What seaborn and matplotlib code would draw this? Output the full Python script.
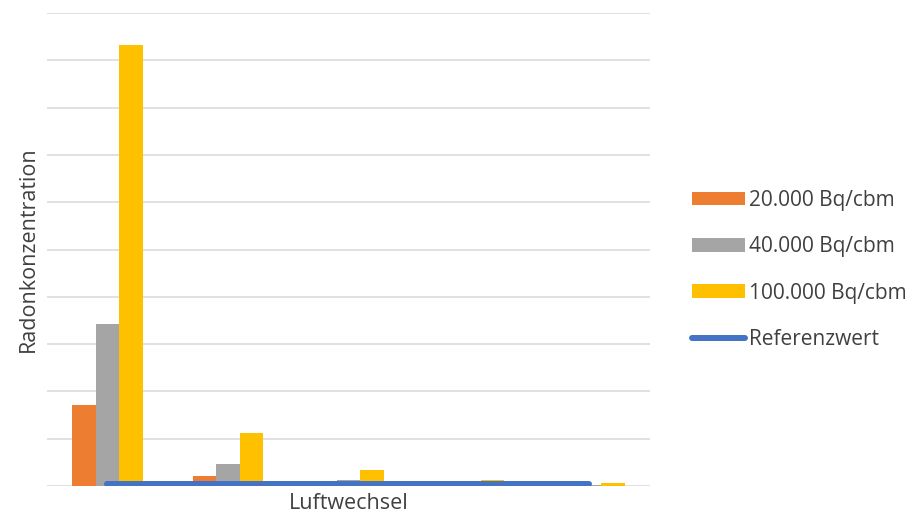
import matplotlib
matplotlib.use("Agg")
import matplotlib.pyplot as plt
import seaborn as sns
import pandas as pd

# Air exchange steps (no tick labels shown) and radon concentrations in Bq/m³
steps = ["1", "2", "3", "4", "5"]
series = ["20.000 Bq/cbm", "40.000 Bq/cbm", "100.000 Bq/cbm"]
conc_20k = [10270, 1306, 400, 150, 85]
conc_40k = [20550, 2750, 810, 300, 170]
conc_100k = [55940, 6720, 2030, 760, 420]
reference = [300, 300, 300, 300, 300]
ref_label = "Referenzwert"

colors = ["#ED7D31", "#A5A5A5", "#FFC000"]
ref_color = "#4472C4"
text_color = "#404040"

df = pd.DataFrame({
    "Luftwechsel": steps * 3,
    "Radonkonzentration": conc_20k + conc_40k + conc_100k,
    "Quelle": [s for s in series for _ in steps],
})

sns.set_theme(style="white")
plt.rcParams["font.family"] = ["Open Sans", "DejaVu Sans"]

fig = plt.figure(figsize=(9.15, 5.23), dpi=100)
ax = fig.add_axes([0.0514, 0.0707, 0.6586, 0.9043])

sns.barplot(data=df, x="Luftwechsel", y="Radonkonzentration", hue="Quelle",
            hue_order=series, palette=colors, width=0.585, ax=ax,
            saturation=1, errorbar=None, legend=True, linewidth=0, zorder=2)

ax.plot(range(len(steps)), reference, color=ref_color, lw=4.3,
        solid_capstyle="round", label=ref_label, zorder=3)

ax.set_xlim(-0.5, len(steps) - 0.5)
ax.set_ylim(0, 60000)
ax.set_yticks(range(0, 60001, 6000))
ax.yaxis.grid(True, color="#D9D9D9", lw=1.1)
ax.set_axisbelow(True)
ax.tick_params(left=False, bottom=False, labelleft=False, labelbottom=False)
for sp in ax.spines.values():
    sp.set_visible(False)

ax.set_xlabel("Luftwechsel", fontsize=15.5, color=text_color, labelpad=5)
ax.set_ylabel("Radonkonzentration", fontsize=15.5, color=text_color, labelpad=6)

handles, labels = ax.get_legend_handles_labels()
ax.legend_.remove()
fig.legend(handles, labels, loc="center left", bbox_to_anchor=(0.756, 0.484),
           frameon=False, fontsize=15, handlelength=2.55, handleheight=0.62,
           handletextpad=0.2, labelspacing=1.22, borderpad=0, borderaxespad=0,
           labelcolor=text_color)

fig.savefig("out.png", dpi=100)
